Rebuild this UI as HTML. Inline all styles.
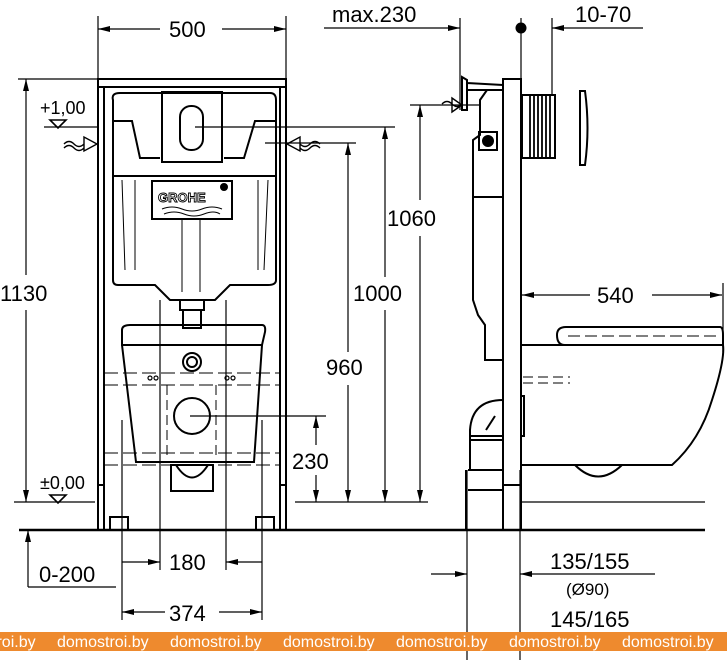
<!DOCTYPE html>
<html><head><meta charset="utf-8"><style>
html,body{margin:0;padding:0;background:#fff;}
svg{display:block;}
text{font-family:"Liberation Sans",Arial,sans-serif;fill:#000;}
</style></head><body>
<svg width="727" height="664" viewBox="0 0 727 664" xmlns="http://www.w3.org/2000/svg">
<defs>
<marker id="a" viewBox="0 0 12 6" refX="12" refY="3" markerWidth="12" markerHeight="6" markerUnits="userSpaceOnUse" orient="auto"><path d="M0,0 L12,3 L0,6 z" fill="#000"/></marker>
</defs>
<g stroke="#000" stroke-width="1.2" fill="none">
<line x1="98" y1="16" x2="98" y2="79"/><line x1="286" y1="16" x2="286" y2="79"/>
<line x1="160" y1="29" x2="98" y2="29" marker-end="url(#a)"/><line x1="222" y1="29" x2="286" y2="29" marker-end="url(#a)"/>
<line x1="324" y1="28" x2="460" y2="28" marker-end="url(#a)"/>
<line x1="460" y1="18" x2="460" y2="110"/>
<line x1="521" y1="18" x2="521" y2="79"/>
<line x1="552" y1="18" x2="552" y2="95"/>
<line x1="643" y1="28" x2="552" y2="28" marker-end="url(#a)"/>
<line x1="18" y1="79" x2="98" y2="79"/>
<line x1="26" y1="275" x2="26" y2="79" marker-end="url(#a)"/>
<line x1="26" y1="310" x2="26" y2="502" marker-end="url(#a)"/>
<line x1="14" y1="502" x2="95" y2="502"/>
<line x1="44" y1="127" x2="98" y2="127"/>
<line x1="295" y1="502" x2="428" y2="502"/>
<line x1="190" y1="416" x2="326" y2="416"/>
<line x1="316" y1="445" x2="316" y2="416" marker-end="url(#a)"/>
<line x1="316" y1="475" x2="316" y2="502" marker-end="url(#a)"/>
<line x1="265" y1="143" x2="356" y2="143"/>
<line x1="348" y1="352" x2="348" y2="143" marker-end="url(#a)"/>
<line x1="348" y1="385" x2="348" y2="502" marker-end="url(#a)"/>
<line x1="195" y1="127" x2="395" y2="127"/>
<line x1="385" y1="277" x2="385" y2="127" marker-end="url(#a)"/>
<line x1="385" y1="310" x2="385" y2="502" marker-end="url(#a)"/>
<line x1="410" y1="105" x2="480" y2="105"/>
<line x1="420" y1="200" x2="420" y2="105" marker-end="url(#a)"/>
<line x1="420" y1="236" x2="420" y2="502" marker-end="url(#a)"/>
<line x1="19" y1="530" x2="705" y2="530" stroke-width="2.4"/>
<line x1="522" y1="502" x2="705" y2="502"/>
<line x1="28" y1="587" x2="28" y2="530" marker-end="url(#a)"/>
<line x1="28" y1="587" x2="116" y2="587"/>
<line x1="160" y1="300" x2="160" y2="570"/><line x1="226" y1="300" x2="226" y2="570"/>
<line x1="122" y1="420" x2="122" y2="620"/><line x1="262" y1="420" x2="262" y2="620"/>
<line x1="122" y1="562" x2="160" y2="562" marker-end="url(#a)"/>
<line x1="262" y1="562" x2="226" y2="562" marker-end="url(#a)"/>
<line x1="165" y1="612" x2="122" y2="612" marker-end="url(#a)"/>
<line x1="219" y1="612" x2="262" y2="612" marker-end="url(#a)"/>
<line x1="467" y1="470" x2="467" y2="660"/><line x1="520" y1="470" x2="520" y2="660"/>
<line x1="431" y1="574" x2="467" y2="574" marker-end="url(#a)"/>
<line x1="655" y1="574" x2="520" y2="574" marker-end="url(#a)"/>
<line x1="590" y1="295" x2="522" y2="295" marker-end="url(#a)"/>
<line x1="652" y1="295" x2="722" y2="295" marker-end="url(#a)"/>
<line x1="723" y1="283" x2="723" y2="352"/>

<g stroke-width="2">
<rect x="98" y="79" width="188" height="8"/>
<line x1="98" y1="79" x2="98" y2="530"/><line x1="104" y1="87" x2="104" y2="485"/>
<line x1="280" y1="87" x2="280" y2="485"/><line x1="286" y1="79" x2="286" y2="530"/>
<path d="M104,485 h-6 M280,485 h6"/>
<line x1="104" y1="485" x2="104" y2="530"/><line x1="280" y1="485" x2="280" y2="530"/>
<rect x="110" y="517" width="18" height="13"/><rect x="256" y="517" width="18" height="13"/>
<line x1="92" y1="530" x2="134" y2="530"/><line x1="250" y1="530" x2="292" y2="530"/>
<path d="M113,100 Q111,93 120,93 L270,93 Q276,93 276,100 L276,280 Q276,285 268,285 L230,285 L215,300 L170,300 L155,285 L118,285 Q113,285 113,280 Z"/>
<line x1="113" y1="176" x2="276" y2="176"/>
<path d="M113,121 L132,121 L140,158 L160,158 M224,158 L244,158 L255,121 L276,121"/>
<rect x="162" y="92" width="60" height="70"/>
<rect x="180" y="106" width="23" height="44" rx="11"/>
<rect x="152" y="181" width="80" height="38"/>
<text x="158" y="202" font-size="13" font-weight="bold" style="fill:#fff;stroke:#000;stroke-width:0.9">GROHE</text>
<circle cx="224" cy="187" r="3" fill="#000"/>
<path d="M162,209 q10,-4 20,0 t20,0 t20,0 M164,214 q10,-4 20,0 t20,0 t16,0" stroke-width="1"/>
<path d="M122,180 L125,270 M135,180 L135,270 M258,180 L258,270 M268,180 L264,270" stroke-width="1"/>
<path d="M182,220 L182,292 M200,220 L200,292" stroke-width="1"/>
<rect x="180" y="300" width="24" height="10"/><rect x="183" y="310" width="18" height="18"/>
<path d="M122,330 Q122,325 130,325 L262,325 Q266,325 265,332 L262,345 L122,345 Z"/>
<path d="M122,345 L136,462 L254,462 L262,345"/>
<circle cx="192" cy="362" r="9"/><circle cx="192" cy="362" r="5"/>
<circle cx="192" cy="416" r="18"/>
<rect x="171" y="465" width="42" height="26"/>
<path d="M176,465 Q192,490 208,465"/>
<path d="M104,373 H280 M104,385 H280 M104,453 H280 M104,465 H280" stroke-width="1" stroke-dasharray="14,5"/>
<path d="M167,385 V455 M216,385 V455" stroke-width="1" stroke-dasharray="10,5"/>
</g>
<circle cx="150" cy="378" r="2"/><circle cx="156" cy="378" r="2"/><circle cx="227" cy="378" r="2"/><circle cx="233" cy="378" r="2"/>
<path d="M50,120 h16 l-8,8 z M50,495 h16 l-8,8 z" stroke-width="1.6"/>
<path d="M64,144 q5,-5 10,0 t10,0 M64,148 q5,-5 10,0 t10,0 M84,137 v14 l13,-7 z" stroke-width="1.4"/>
<path d="M320,144 q-5,-5 -10,0 t-10,0 M320,148 q-5,-5 -10,0 t-10,0 M300,137 v14 l-13,-7 z" stroke-width="1.4"/>

<g stroke-width="2">
<rect x="503" y="79" width="18" height="451"/>
<line x1="503" y1="485" x2="521" y2="485"/>
<path d="M503,90 L487,90 L480,100 L480,135 L473,140 L473,300 L478,315 L485,325 L485,360 L503,360"/>
<line x1="473" y1="197" x2="503" y2="197"/>
<rect x="479" y="132" width="18" height="18"/><circle cx="488" cy="141" r="5" fill="#000"/>
<path d="M462,77 L462,110 L467,110 L467,80 Z M467,83 L503,85 M467,90 L503,90"/>
<path d="M442,104 q5,-5 10,0 t10,0 M452,98 v14 l10,-7 z" stroke-width="1.4"/>
<rect x="522" y="95" width="33" height="63" fill="#fff"/>
<path d="M530,96 V157 M534,96 V157 M538,96 V157 M542,96 V157 M546,96 V157 M550,96 V157" stroke-width="1.8"/>
<path d="M580,91 L585,91 Q590,128 585,165 L580,165 Z"/>
<path d="M557,335 Q557,327 566,327 L720,327 Q723,327 723,335 L723,345 L565,345 Q557,345 557,335 Z"/>
<path d="M521,345 L723,345 Q725,360 712,400 Q700,440 672,465 L521,465"/>
<path d="M575,465 Q598,488 622,465"/>
<path d="M568,336 H720" stroke-width="1" stroke-dasharray="12,5"/>
<path d="M523,377 H570 M523,383 H570" stroke-width="1" stroke-dasharray="10,5"/>
<path d="M503,400 Q472,400 470,430 L470,470 M466,470 L466,530 M503,436 L470,436 L470,440 L503,440 M468,470 H503 M468,490 H503"/>
<path d="M486,430 L495,416"/>
<path d="M521,396 L524,396 L524,436 L521,436"/>
</g>
</g>
<circle cx="521" cy="28" r="5.5" fill="#000"/>

<g font-size="22">
<text x="169" y="37">500</text>
<text x="332" y="22">max.230</text>
<text x="575" y="22">10-70</text>
<text x="0" y="301">1130</text>
<text x="387" y="226">1060</text>
<text x="353" y="301">1000</text>
<text x="326" y="375">960</text>
<text x="292" y="469">230</text>
<text x="597" y="303">540</text>
<text x="169" y="570">180</text>
<text x="39" y="582">0-200</text>
<text x="169" y="621">374</text>
<text x="550" y="569">135/155</text>
<text x="550" y="627">145/165</text>
</g>
<text x="40" y="114" font-size="18">+1,00</text>
<text x="40" y="489" font-size="18">±0,00</text>
<text x="566" y="595" font-size="17">(Ø90)</text>

<rect x="0" y="632" width="727" height="19" fill="#ee8a2e"/>
<g font-size="16">
<text x="-56" y="647" style="fill:#fff">domostroi.by</text>
<text x="57" y="647" style="fill:#fff">domostroi.by</text>
<text x="170" y="647" style="fill:#fff">domostroi.by</text>
<text x="283" y="647" style="fill:#fff">domostroi.by</text>
<text x="396" y="647" style="fill:#fff">domostroi.by</text>
<text x="509" y="647" style="fill:#fff">domostroi.by</text>
<text x="622" y="647" style="fill:#fff">domostroi.by</text>
</g>
</svg>
</body></html>
